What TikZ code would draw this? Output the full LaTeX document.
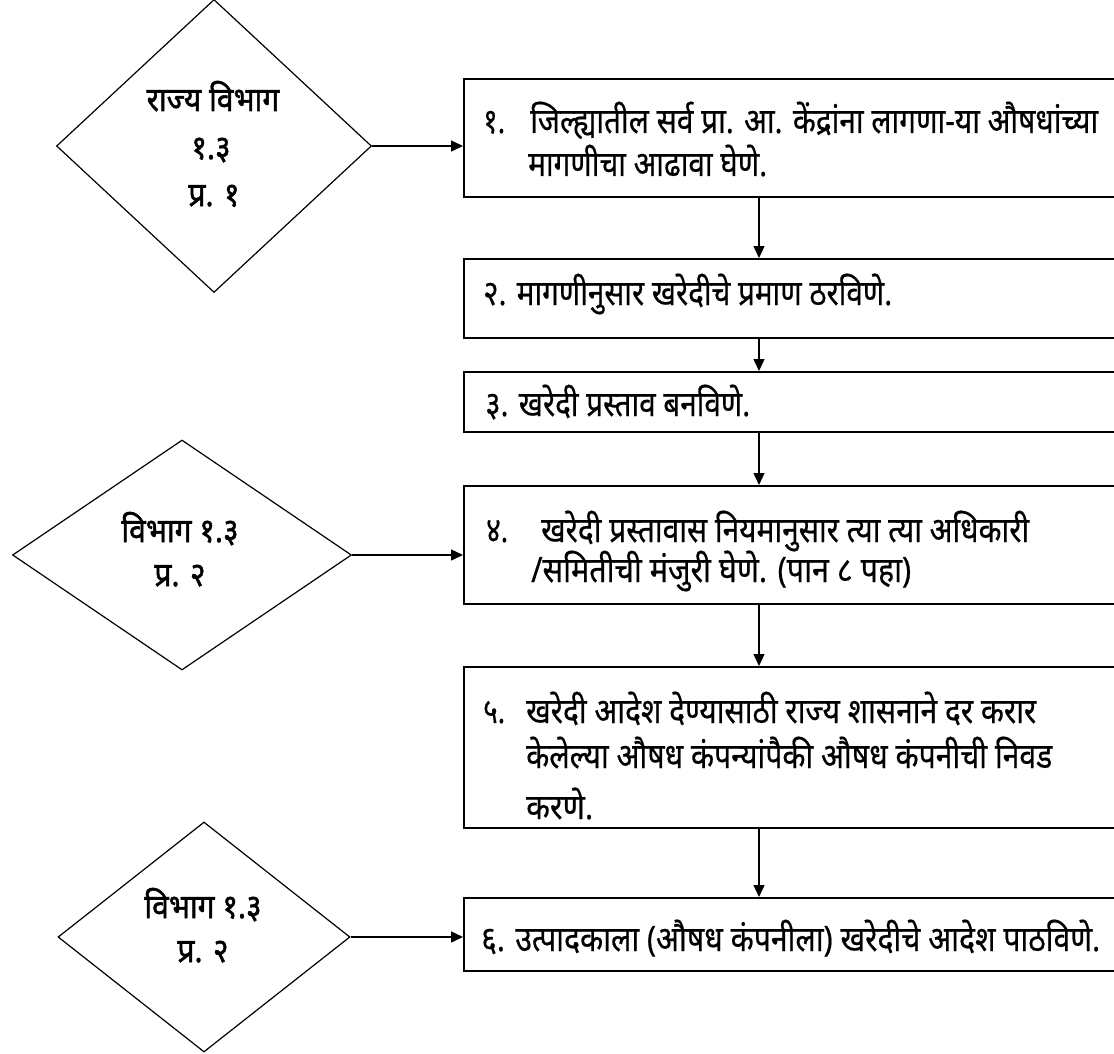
\documentclass[tikz,border=0pt]{standalone}
\usepackage{fontspec}
\usepackage{graphicx}
\usetikzlibrary{shapes.geometric,arrows.meta}
\newfontfamily\deva[Script=Devanagari,FakeBold=0.5]{Noto Sans}
\newfontfamily\devab[Script=Devanagari,FakeBold=1.6]{Noto Sans}
\newcommand{\fitw}[2]{\resizebox{#1pt}{\height}{#2}}
\newcommand{\tallb}[1]{\scalebox{1}[1.12]{#1}}
\begin{document}
\begin{tikzpicture}[x=1pt,y=-1pt,
  stepbox/.style={draw, line width=1.9pt, rectangle, anchor=north west, inner sep=0pt, minimum width=660pt},
  dia/.style={draw, diamond, line width=1.2pt, inner sep=0pt},
  boxtxt/.style={anchor=base west, inner sep=0pt, font=\deva\fontsize{35}{40}\selectfont},
  diatxt/.style={anchor=base, inner sep=0pt, font=\devab\fontsize{30}{34}\selectfont},
  arr/.style={line width=1.4pt, -{Triangle[length=12pt,width=11pt]}}]
\useasboundingbox (0,0) rectangle (1114,1054);
\clip (0,0) rectangle (1114,1054);
% boxes
\node[stepbox, minimum height=118pt] (b1) at (463,78) {};
\node[stepbox, minimum height=79pt] (b2) at (463,258) {};
\node[stepbox, minimum height=60pt] (b3) at (463,371) {};
\node[stepbox, minimum height=118pt] (b4) at (463,485) {};
\node[stepbox, minimum height=161pt] (b5) at (463,666) {};
\node[stepbox, minimum height=73pt] (b6) at (463,897) {};
% diamonds
\node[dia, minimum width=315pt, minimum height=293pt] (d1) at (214,146) {};
\node[dia, minimum width=339pt, minimum height=230pt] (d2) at (182,555) {};
\node[dia, minimum width=292pt, minimum height=230pt] (d3) at (204,937) {};
% arrows
\coordinate (ax) at (759,0);
\draw[arr] (d1.east) -- (d1.east -| b1.west);
\draw[arr] (d2.east) -- (d2.east -| b4.west);
\draw[arr] (d3.east) -- (d3.east -| b6.west);
\draw[arr] (b1.south -| ax) -- (b2.north -| ax);
\draw[arr] (b2.south -| ax) -- (b3.north -| ax);
\draw[arr] (b3.south -| ax) -- (b4.north -| ax);
\draw[arr] (b4.south -| ax) -- (b5.north -| ax);
\draw[arr] (b5.south -| ax) -- (b6.north -| ax);
% box texts
\node[boxtxt] (t1n) at (483,133) {\fitw{22}{१.}};
\node[boxtxt] (t1a) at (530,133) {\fitw{568}{जिल्ह्यातील सर्व प्रा. आ. केंद्रांना लागणा-या औषधांच्या}};
\node[boxtxt] (t1b) at (528,176) {\fitw{239}{मागणीचा आढावा घेणे.}};
\node[boxtxt] (t2) at (483,305) {\fitw{409}{२. मागणीनुसार खरेदीचे प्रमाण ठरविणे.}};
\node[boxtxt] (t3) at (485,416) {\fitw{265}{३. खरेदी प्रस्ताव बनविणे.}};
\node[boxtxt] (t4n) at (486,542) {\fitw{22}{४.}};
\node[boxtxt] (t4a) at (541,542) {\fitw{488}{खरेदी प्रस्तावास नियमानुसार त्या त्या अधिकारी}};
\node[boxtxt] (t4b) at (531,582) {\fitw{380}{/समितीची मंजुरी घेणे. (पान ८ पहा)}};
\node[boxtxt] (t5n) at (483,723) {\fitw{22}{५.}};
\node[boxtxt] (t5a) at (526,723) {\fitw{510}{खरेदी आदेश देण्यासाठी राज्य शासनाने दर करार}};
\node[boxtxt] (t5b) at (526,768) {\fitw{526}{केलेल्या औषध कंपन्यांपैकी औषध कंपनीची निवड}};
\node[boxtxt] (t5c) at (526,819) {\fitw{67}{करणे.}};
\node[boxtxt] (t6) at (481,951) {\fitw{619}{६. उत्पादकाला (औषध कंपनीला) खरेदीचे आदेश पाठविणे.}};
% diamond texts
\node[diatxt] (l1a) at (213,111) {\tallb{राज्य विभाग}};
\node[diatxt] (l1b) at (211,159) {\tallb{१.३}};
\node[diatxt] (l1c) at (214,206) {\tallb{प्र. १}};
\node[diatxt] (l2a) at (180,542) {\tallb{विभाग १.३}};
\node[diatxt] (l2b) at (180,586) {\tallb{प्र. २}};
\node[diatxt] (l3a) at (203,918) {\tallb{विभाग १.३}};
\node[diatxt] (l3b) at (203,962) {\tallb{प्र. २}};
\end{tikzpicture}
\end{document}
